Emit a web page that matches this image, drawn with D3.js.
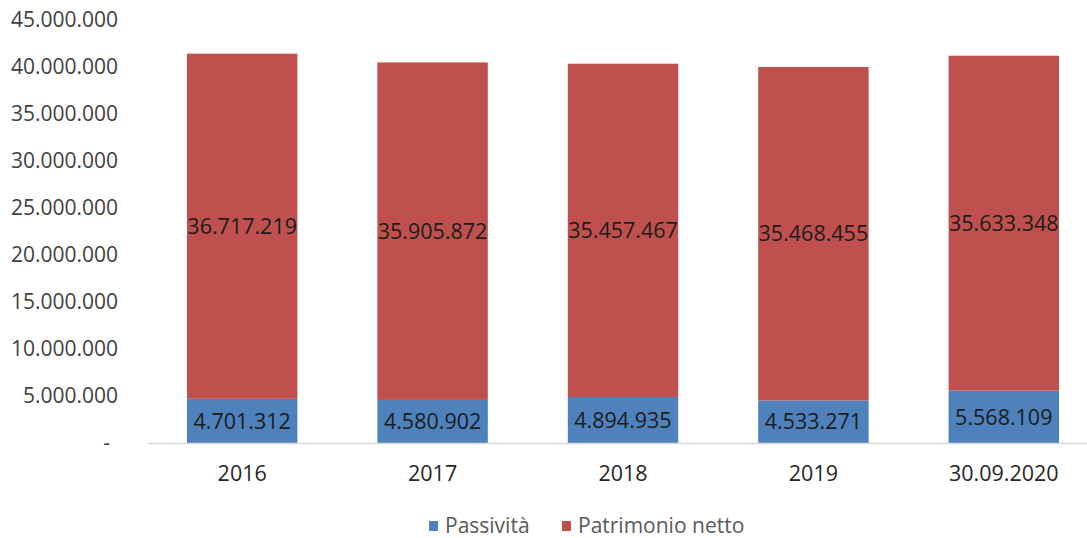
<!DOCTYPE html>
<html>
<head>
<meta charset="utf-8">
<script src="https://cdn.jsdelivr.net/npm/d3@7"></script>
<style>
  html, body { margin: 0; padding: 0; background: #fff; }
  svg { display: block; font-family: "Open Sans", "Noto Sans", sans-serif; }
</style>
</head>
<body>
<svg id="chart" width="1087" height="538"></svg>
<script>
// Balance sheet composition by year
const categories = ["2016", "2017", "2018", "2019", "30.09.2020"];
const passivita = [4701312, 4580902, 4894935, 4533271, 5568109];
const patrimonioNetto = [36717219, 35905872, 35457467, 35468455, 35633348];
const seriesNames = ["Passività", "Patrimonio netto"];
const yTicks = [0, 5000000, 10000000, 15000000, 20000000, 25000000, 30000000, 35000000, 40000000, 45000000];

const colors = ["#4f81bd", "#c0504d"];
const svg = d3.select("#chart");

const x = d3.scaleBand().domain(categories).range([147, 1099]).paddingInner(0.42).paddingOuter(0.21);
const y = d3.scaleLinear().domain([0, 45000000]).range([443, 20]);

const fmt = v => v === 0 ? "-" : d3.format(",")(v).replace(/,/g, ".");

const rows = categories.map((c, i) => ({ cat: c, "Passività": passivita[i], "Patrimonio netto": patrimonioNetto[i] }));
const stacked = d3.stack().keys(seriesNames)(rows);

// y tick labels (no gridlines, no axis line)
const yAxis = d3.axisLeft(y).tickValues(yTicks).tickSize(0).tickPadding(0).tickFormat(fmt);
const gy = svg.append("g").attr("transform", "translate(118,0)").call(yAxis);
gy.select(".domain").remove();
gy.selectAll("text")
  .attr("font-size", 21)
  .attr("fill", "#404040")
  .attr("font-family", "Open Sans, sans-serif");
gy.selectAll("text").filter(d => d === 0).attr("dx", -8);

// bars
const layers = svg.append("g").selectAll("g").data(stacked).join("g")
  .attr("fill", (d, i) => colors[i]);
layers.selectAll("rect").data(d => d).join("rect")
  .attr("x", d => x(d.data.cat))
  .attr("width", x.bandwidth())
  .attr("y", d => y(d[1]))
  .attr("height", d => y(d[0]) - y(d[1]));

// baseline (category axis)
const xAxis = d3.axisBottom(x).tickSize(0).tickPadding(0);
const gx = svg.append("g").attr("transform", `translate(0,${y(0)})`).call(xAxis);
gx.select(".domain").attr("stroke", "#d9d9d9").attr("stroke-width", 1.5);
gx.selectAll("text")
  .attr("font-size", 21.5)
  .attr("fill", "#262626")
  .attr("font-family", "Open Sans, sans-serif")
  .attr("dy", 0)
  .attr("y", 38);

// data labels centred in each segment
stacked.forEach((layer) => {
  svg.append("g").selectAll("text").data(layer).join("text")
    .attr("x", d => x(d.data.cat) + x.bandwidth() / 2)
    .attr("y", d => y((d[0] + d[1]) / 2))
    .attr("dy", "0.36em")
    .attr("text-anchor", "middle")
    .attr("font-size", 21.5)
    .attr("fill", "#1c1c1c")
    .text(d => fmt(d[1] - d[0]));
});

// legend
const legend = svg.append("g").attr("transform", "translate(0,525)");
const legendX = [429, 562];
seriesNames.forEach((name, i) => {
  legend.append("rect").attr("x", legendX[i]).attr("y", -4).attr("width", 9).attr("height", 10).attr("fill", colors[i]);
  legend.append("text").attr("x", legendX[i] + 16).attr("y", 0).attr("dy", "0.36em")
    .attr("font-size", 21).attr("fill", "#595959").text(name);
});
</script>
</body>
</html>
